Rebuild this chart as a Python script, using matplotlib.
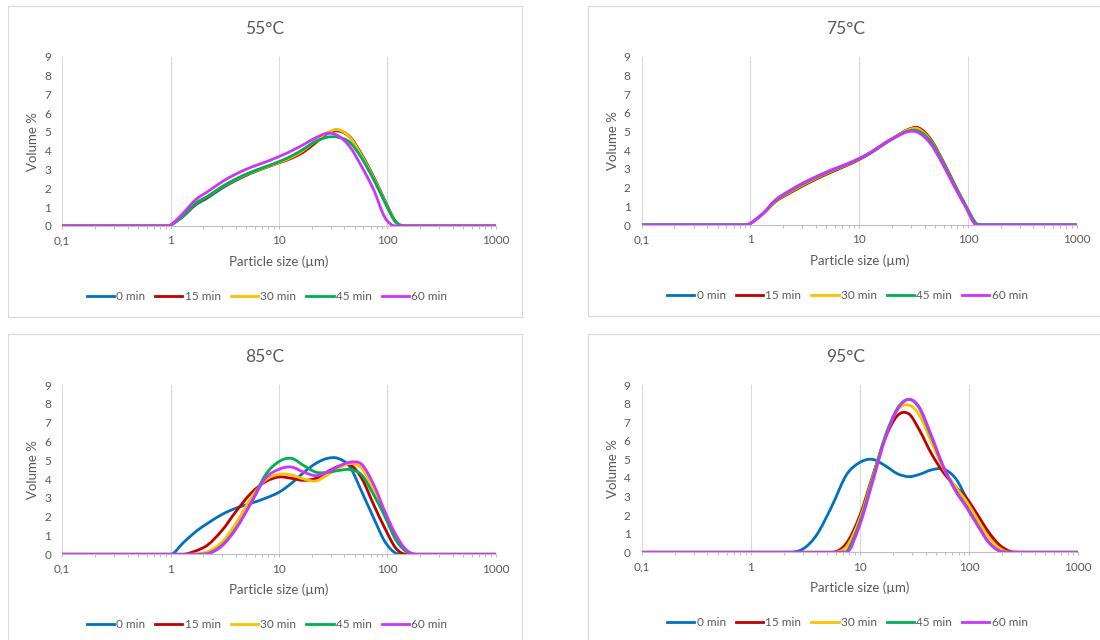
import numpy as np
import matplotlib
matplotlib.use("Agg")
import matplotlib.pyplot as plt
from matplotlib.path import Path
from matplotlib.patches import PathPatch, Rectangle
from matplotlib.lines import Line2D
from matplotlib.ticker import LogLocator, NullFormatter

plt.rcParams["font.family"] = ["Lato", "DejaVu Sans"]

# particle size classes (um)
sizes = [0.1, 0.5, 0.9, 1.0, 1.3, 1.7, 2.2, 3, 4, 5.5, 7.5, 10, 13, 17, 22,
         28, 35, 45, 58, 75, 95, 120, 150, 190, 240, 300, 1000]

series_names = ["0 min", "15 min", "30 min", "45 min", "60 min"]
colors = ["#0070C0", "#C00000", "#FFC000", "#00B050", "#CC33FF"]

# volume % per series, 55 C
t55_0 = [0, 0, 0, 0.04, 0.5, 1.12, 1.5, 2.02, 2.42, 2.8, 3.1, 3.38, 3.68, 4.08, 4.55,
         4.92, 5.05, 4.75, 3.8, 2.6, 1.35, 0.22, 0, 0, 0, 0, 0]
t55_15 = [0, 0, 0, 0.05, 0.55, 1.17, 1.55, 2.07, 2.46, 2.83, 3.12, 3.36, 3.6, 3.95, 4.45,
          4.93, 5.1, 4.72, 3.74, 2.55, 1.3, 0.2, 0, 0, 0, 0, 0]
t55_30 = [0, 0, 0, 0.05, 0.55, 1.2, 1.58, 2.09, 2.48, 2.84, 3.12, 3.38, 3.65, 4.04, 4.54,
          4.96, 5.12, 4.72, 3.72, 2.53, 1.29, 0.18, 0, 0, 0, 0, 0]
t55_45 = [0, 0, 0, 0.05, 0.55, 1.2, 1.58, 2.1, 2.5, 2.86, 3.15, 3.42, 3.72, 4.1, 4.5,
          4.72, 4.72, 4.45, 3.6, 2.45, 1.25, 0.2, 0, 0, 0, 0, 0]
t55_60 = [0, 0, 0, 0.05, 0.67, 1.4, 1.83, 2.36, 2.76, 3.12, 3.4, 3.69, 3.99, 4.34, 4.7,
          4.93, 4.8, 4.22, 3.15, 1.91, 0.45, 0, 0, 0, 0, 0, 0]

# 75 C
t75_0 = [0, 0, 0, 0.08, 0.6, 1.28, 1.7, 2.12, 2.5, 2.86, 3.2, 3.52, 3.9, 4.35, 4.75,
         5.08, 5.12, 4.55, 3.45, 2.15, 1.02, 0.03, 0, 0, 0, 0, 0]
t75_15 = [0, 0, 0, 0.08, 0.6, 1.25, 1.65, 2.08, 2.45, 2.82, 3.16, 3.5, 3.88, 4.33, 4.75,
          5.1, 5.2, 4.62, 3.5, 2.2, 1.05, 0.05, 0, 0, 0, 0, 0]
t75_30 = [0, 0, 0, 0.08, 0.6, 1.28, 1.7, 2.13, 2.5, 2.87, 3.2, 3.53, 3.9, 4.35, 4.75,
          5.08, 5.14, 4.55, 3.45, 2.15, 1.02, 0.03, 0, 0, 0, 0, 0]
t75_45 = [0, 0, 0, 0.08, 0.61, 1.3, 1.74, 2.18, 2.54, 2.9, 3.22, 3.54, 3.9, 4.35, 4.73,
          5.02, 5.03, 4.5, 3.42, 2.15, 1.05, 0.05, 0, 0, 0, 0, 0]
t75_60 = [0, 0, 0, 0.09, 0.62, 1.34, 1.78, 2.23, 2.58, 2.94, 3.24, 3.56, 3.92, 4.37, 4.72,
          4.99, 4.94, 4.37, 3.3, 2.05, 0.98, 0, 0, 0, 0, 0, 0]

# 85 C
t85_0 = [0, 0, 0, 0, 0.6, 1.2, 1.65, 2.13, 2.45, 2.71, 2.98, 3.3, 3.77, 4.36, 4.84,
         5.1, 5.1, 4.66, 3.33, 1.91, 0.67, 0.05, 0, 0, 0, 0, 0]
t85_15 = [0, 0, 0, 0, 0, 0.18, 0.5, 1.29, 2.27, 3.24, 3.86, 4.11, 4.04, 3.93, 4.04,
          4.39, 4.66, 4.78, 4.04, 2.62, 1.38, 0.32, 0, 0, 0, 0, 0]
t85_30 = [0, 0, 0, 0, 0, 0.02, 0.14, 0.67, 1.65, 2.98, 3.95, 4.25, 4.22, 4.0, 3.9,
          4.22, 4.57, 4.82, 4.57, 3.42, 2.09, 0.85, 0.14, 0, 0, 0, 0]
t85_45 = [0, 0, 0, 0, 0, 0, 0.03, 0.5, 1.38, 2.71, 4.22, 4.93, 5.1, 4.71, 4.36,
          4.36, 4.45, 4.5, 4.22, 3.15, 2.0, 0.76, 0.14, 0, 0, 0, 0]
t85_60 = [0, 0, 0, 0, 0, 0, 0.02, 0.46, 1.35, 2.71, 4.04, 4.52, 4.64, 4.36, 4.18,
          4.36, 4.66, 4.89, 4.78, 3.69, 2.27, 1.03, 0.23, 0, 0, 0, 0]

# 95 C
t95_0 = [0, 0, 0, 0, 0, 0, 0, 0.18, 0.93, 2.46, 4.16, 4.84, 5.0, 4.66, 4.23,
         4.07, 4.19, 4.43, 4.48, 3.98, 2.9, 1.83, 0.93, 0.22, 0, 0, 0]
t95_15 = [0, 0, 0, 0, 0, 0, 0, 0, 0, 0, 0.48, 2.0, 4.07, 6.13, 7.35,
          7.45, 6.58, 5.32, 4.3, 3.53, 2.9, 2.0, 1.11, 0.39, 0.04, 0, 0]
t95_30 = [0, 0, 0, 0, 0, 0, 0, 0, 0, 0, 0.3, 1.83, 3.98, 6.22, 7.65,
          7.92, 7.38, 5.95, 4.52, 3.53, 2.72, 1.74, 0.84, 0.22, 0, 0, 0]
t95_45 = [0, 0, 0, 0, 0, 0, 0, 0, 0, 0, 0.02, 1.65, 3.89, 6.22, 7.74,
          8.23, 7.74, 6.22, 4.6, 3.35, 2.46, 1.47, 0.57, 0.07, 0, 0, 0]
t95_60 = [0, 0, 0, 0, 0, 0, 0, 0, 0, 0, 0, 1.5, 3.75, 6.1, 7.68,
          8.23, 7.8, 6.3, 4.62, 3.3, 2.4, 1.42, 0.55, 0.06, 0, 0, 0]

titles = ["55°C", "75°C", "85°C", "95°C"]
panel_data = [
    [t55_0, t55_15, t55_30, t55_45, t55_60],
    [t75_0, t75_15, t75_30, t75_45, t75_60],
    [t85_0, t85_15, t85_30, t85_45, t85_60],
    [t95_0, t95_15, t95_30, t95_45, t95_60],
]

x_ticks = [0.1, 1, 10, 100, 1000]
x_tick_labels = ["0,1", "1", "10", "100", "1000"]
y_ticks = list(range(10))

W, H = 1100, 640
TXT = "#595959"

# pixel layout: chart frame and plot area (x0, y0, x1, y1), top-left origin
frames = [(8, 6, 522, 317), (588, 6, 1103, 316), (8, 334, 522, 645), (588, 334, 1103, 645)]
plots = [(62.3, 56.7, 495.7, 226), (641.7, 56.7, 1076.7, 225),
         (62.3, 385, 495.7, 554.3), (641.7, 385, 1078.3, 552.3)]


def smooth_path(xs, ys):
    # cubic hermite in log-x, drawn as bezier segments (like Excel smoothed lines)
    lx = np.log10(np.asarray(xs, float))
    y = np.asarray(ys, float)
    n = len(lx)
    m = np.zeros(n)
    for i in range(n):
        if y[i] == 0:
            continue
        a, b = max(i - 1, 0), min(i + 1, n - 1)
        m[i] = (y[b] - y[a]) / (lx[b] - lx[a])
    verts = [(xs[0], y[0])]
    codes = [Path.MOVETO]
    for i in range(n - 1):
        d = (lx[i + 1] - lx[i]) / 3
        c1 = (10 ** (lx[i] + d), max(0, y[i] + m[i] * d))
        c2 = (10 ** (lx[i + 1] - d), max(0, y[i + 1] - m[i + 1] * d))
        verts += [c1, c2, (xs[i + 1], y[i + 1])]
        codes += [Path.CURVE4] * 3
    return Path(verts, codes)


fig = plt.figure(figsize=(11, 6.4), dpi=100)

for k in range(4):
    fx0, fy0, fx1, fy1 = frames[k]
    px0, py0, px1, py1 = plots[k]
    fig.patches.append(Rectangle((fx0 / W, 1 - fy1 / H), (fx1 - fx0) / W, (fy1 - fy0) / H,
                                 transform=fig.transFigure, fill=False,
                                 edgecolor="#d9d9d9", lw=0.8))
    ax = fig.add_axes([px0 / W, 1 - py1 / H, (px1 - px0) / W, (py1 - py0) / H])
    ax.set_xscale("log")
    ax.set_xlim(0.1, 1000)
    ax.set_ylim(0, 9)
    ax.patch.set_alpha(0)
    for s in ["top", "right", "left"]:
        ax.spines[s].set_visible(False)
    ax.spines["bottom"].set_color("#bfbfbf")
    ax.spines["bottom"].set_linewidth(0.8)
    ax.set_xticks(x_ticks)
    ax.set_xticklabels(x_tick_labels)
    ax.xaxis.set_minor_locator(LogLocator(base=10, subs=range(2, 10)))
    ax.xaxis.set_minor_formatter(NullFormatter())
    ax.tick_params(axis="x", which="both", length=2.2, color="#bfbfbf", width=0.8,
                   labelsize=8.5, labelcolor=TXT, pad=4.5)
    ax.set_yticks(y_ticks)
    ax.tick_params(axis="y", length=0, labelsize=8.5, labelcolor=TXT, pad=8)
    ax.grid(axis="x", which="major", color="#d9d9d9", lw=0.8)
    ax.set_axisbelow(True)

    for vals, col in zip(panel_data[k], colors):
        ax.add_patch(PathPatch(smooth_path(sizes, vals), fill=False, edgecolor=col,
                               lw=2.0, capstyle="round", joinstyle="round"))

    cx = (fx0 + fx1) / 2
    fig.text(cx / W, 1 - (fy0 + 23) / H, titles[k], ha="center", va="center",
             fontsize=12.5, color=TXT)
    fig.text((fx0 + 25.3) / W, 1 - (py0 + py1) / 2 / H, "Volume %", rotation=90,
             ha="center", va="center", fontsize=9.5, color=TXT)
    fig.text((px0 + px1) / 2 / W, 1 - (py1 + 35.5) / H, "Particle size (µm)",
             ha="center", va="center", fontsize=9.5, color=TXT)

    handles = [Line2D([], [], color=c, lw=2.0) for c in colors]
    ax.legend(handles, series_names, loc="center", ncol=5, frameon=False,
              bbox_to_anchor=((cx + 2) / W, 1 - (py1 + 70.5) / H),
              bbox_transform=fig.transFigure, fontsize=8.5, labelcolor=TXT,
              handlelength=2.3, handletextpad=0.2, columnspacing=0.85)

fig.savefig("out.png", dpi=100)
